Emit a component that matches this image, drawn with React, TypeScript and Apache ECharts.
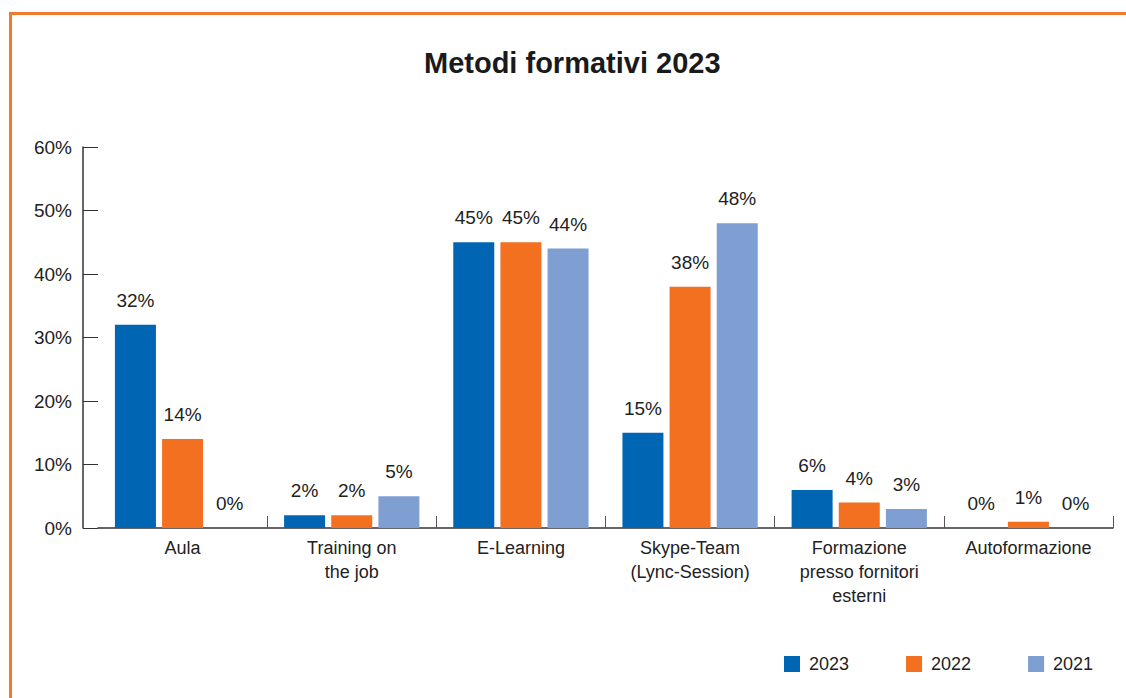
import React, { useEffect, useRef } from "react";
import * as echarts from "echarts";

const categories = [
  "Aula",
  "Training on\nthe job",
  "E-Learning",
  "Skype-Team\n(Lync-Session)",
  "Formazione\npresso fornitori\nesterni",
  "Autoformazione",
];
const seriesNames = ["2023", "2022", "2021"];
const values2023 = [32, 2, 45, 15, 6, 0];
const values2022 = [14, 2, 45, 38, 4, 1];
const values2021 = [0, 5, 44, 48, 3, 0];
const colors = ["#0066B3", "#F37021", "#7F9FD3"];
const FONT = "'Liberation Sans', Arial, Helvetica, sans-serif";

export default function App() {
  const ref = useRef<HTMLDivElement>(null);
  useEffect(() => {
    if (!ref.current) return;
    const chart = echarts.init(ref.current, null, { renderer: "svg" });
    const data = [values2023, values2022, values2021];
    chart.setOption({
      animation: false,
      backgroundColor: "#ffffff",
      textStyle: { fontFamily: FONT },
      title: {
        text: "Metodi formativi 2023",
        left: 424,
        top: 48,
        padding: 0,
        textStyle: { fontFamily: FONT, fontSize: 29, fontWeight: "bold", color: "#1a1a1a" },
      },
      legend: {
        left: 784,
        top: 655,
        padding: 0,
        icon: "rect",
        itemWidth: 16,
        itemHeight: 16,
        itemGap: 57,
        textStyle: { fontFamily: FONT, fontSize: 18, color: "#222", padding: [0, 0, 0, 4] },
        data: seriesNames,
      },
      grid: { left: 98, right: 13, top: 147, bottom: 170, containLabel: false },
      xAxis: {
        type: "category",
        data: categories,
        axisLine: { show: true, lineStyle: { color: "#333", width: 1.5 } },
        axisTick: {
          show: true,
          inside: true,
          length: 12,
          lineStyle: { color: "#555" },
          interval: (i: number) => i !== 0,
        },
        axisLabel: {
          fontFamily: FONT,
          fontSize: 18,
          color: "#222",
          lineHeight: 24,
          margin: 8,
          interval: 0,
        },
      },
      yAxis: {
        type: "value",
        min: 0,
        max: 60,
        interval: 10,
        offset: 15,
        axisLine: { show: true, lineStyle: { color: "#333", width: 1.5 } },
        axisTick: { show: true, inside: true, length: 15, lineStyle: { color: "#333" } },
        splitLine: { show: false },
        axisLabel: {
          fontFamily: FONT,
          fontSize: 19,
          color: "#222",
          margin: 11,
          formatter: "{value}%",
        },
      },
      series: seriesNames.map((name, i) => ({
        name,
        type: "bar",
        data: data[i],
        barWidth: 41,
        barGap: "15%",
        itemStyle: { color: colors[i] },
        label: {
          show: true,
          position: "top",
          distance: 15,
          formatter: "{c}%",
          fontFamily: FONT,
          fontSize: 19,
          color: "#222",
        },
      })),
    });
    return () => chart.dispose();
  }, []);
  return (
    <div style={{ position: "fixed", left: 0, top: 0, width: 1126, height: 698, background: "#fff" }}>
      <div ref={ref} style={{ position: "absolute", left: 0, top: 0, width: 1126, height: 698 }} />
      <div
        style={{
          position: "absolute",
          left: 9,
          top: 12,
          right: 0,
          bottom: 0,
          borderTop: "3px solid #F27A2E",
          borderLeft: "3px solid #F27A2E",
          pointerEvents: "none",
        }}
      />
    </div>
  );
}
